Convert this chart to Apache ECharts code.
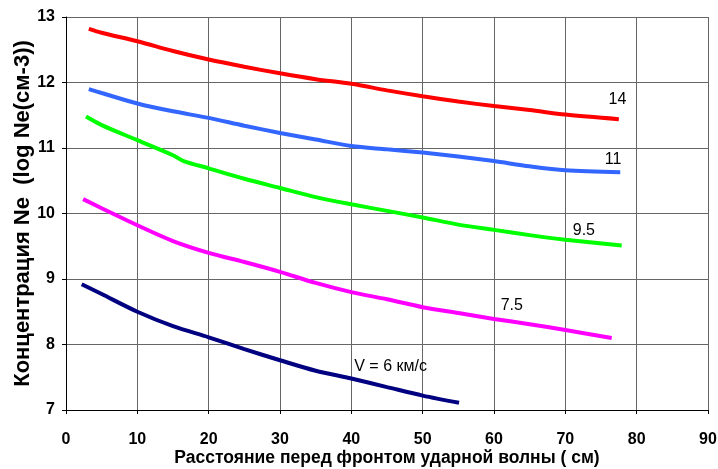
<!DOCTYPE html>
<html><head><meta charset="utf-8">
<script src="https://cdn.jsdelivr.net/npm/echarts@6/dist/echarts.min.js"></script>
<style>html,body{margin:0;padding:0;background:#fff}#c{width:718px;height:469px}</style>
</head><body><div id="c"></div>
<script>
const xTicks = [0,10,20,30,40,50,60,70,80,90];
const yTicks = [7,8,9,10,11,12,13];
const v14 = [[3.2,12.82],[5,12.76],[10,12.63],[15,12.48],[20,12.35],[25,12.24],[30,12.14],[35,12.05],[40,11.98],[45,11.88],[50,11.79],[55,11.71],[60,11.64],[65,11.58],[70,11.51],[77.5,11.44]];
const v11 = [[3.2,11.90],[5,11.84],[10,11.68],[15,11.56],[20,11.46],[25,11.34],[30,11.23],[35,11.13],[40,11.03],[45,10.98],[50,10.93],[55,10.87],[60,10.80],[65,10.72],[70,10.66],[77.7,10.63]];
const v95 = [[2.8,11.48],[5,11.35],[10,11.12],[15,10.89],[16.5,10.80],[20,10.69],[25,10.53],[30,10.39],[35,10.25],[40,10.14],[45,10.04],[50,9.94],[55,9.83],[60,9.75],[65,9.67],[70,9.60],[77.9,9.51]];
const v75 = [[2.4,10.22],[5,10.08],[10,9.82],[15,9.58],[20,9.40],[25,9.26],[30,9.11],[35,8.94],[40,8.80],[45,8.69],[50,8.57],[55,8.48],[60,8.39],[65,8.31],[70,8.22],[76.5,8.10]];
const v6 = [[2.2,8.92],[5,8.77],[10,8.50],[15,8.28],[20,8.11],[25,7.93],[30,7.76],[35,7.60],[40,7.48],[45,7.35],[50,7.22],[55.1,7.11]];
const labels = [
  {name:'14', x:77.3, y:11.74, color:'#ff0000', data:v14},
  {name:'11', x:76.7, y:10.82, color:'#3366ff', data:v11},
  {name:'9.5', x:72.6, y:9.74, color:'#00ff00', data:v95},
  {name:'7.5', x:62.5, y:8.59, color:'#ff00ff', data:v75},
  {name:'V = 6 км/с', x:45.5, y:7.66, color:'#000080', data:v6}
];
const chart = echarts.init(document.getElementById('c'));
const font = 'Arial, "Liberation Sans", sans-serif';
chart.setOption({
  animation:false,
  grid:{left:66,right:10,top:17,bottom:59,outerBoundsMode:'none',containLabel:false},
  xAxis:{type:'value',min:0,max:90,interval:10,
    axisLine:{show:true,lineStyle:{color:'#000',width:1}},
    axisTick:{show:true,length:4,lineStyle:{color:'#000'}},
    splitLine:{show:true,lineStyle:{color:'#666',width:1}},
    axisLabel:{color:'#000',fontFamily:font,fontWeight:'bold',fontSize:16,margin:22},
    name:'Расстояние перед фронтом ударной волны ( см)',nameLocation:'middle',nameGap:39,nameMoveOverlap:false,
    nameTextStyle:{color:'#000',fontFamily:font,fontWeight:'bold',fontSize:17.5}},
  yAxis:{type:'value',min:7,max:13,interval:1,
    axisLine:{show:true,lineStyle:{color:'#000',width:1}},
    axisTick:{show:true,length:4,lineStyle:{color:'#000'}},
    splitLine:{show:true,lineStyle:{color:'#666',width:1}},
    axisLabel:{color:'#000',fontFamily:font,fontWeight:'bold',fontSize:16,margin:11},
    name:'Концентрация Ne  (log Ne(см-3))',nameLocation:'middle',nameGap:32,nameMoveOverlap:false,
    nameTextStyle:{color:'#000',fontFamily:font,fontWeight:'bold',fontSize:22}},
  series: labels.map(l=>({
    type:'line',data:l.data,smooth:0.3,showSymbol:false,symbol:'none',
    lineStyle:{color:l.color,width:4},
    markPoint:{symbol:'circle',symbolSize:1,itemStyle:{color:'rgba(0,0,0,0)'},
      data:[{coord:[l.x,l.y],value:l.name}],
      label:{show:true,position:'inside',formatter:l.name,color:'#000',fontFamily:font,fontSize:16}}
  }))
});
</script></body></html>
